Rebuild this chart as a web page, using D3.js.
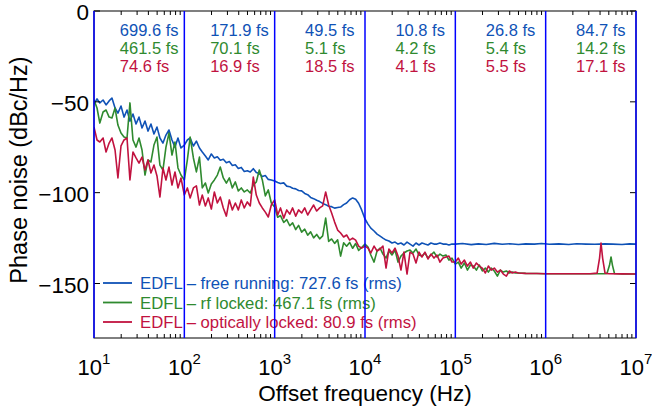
<!DOCTYPE html>
<html><head><meta charset="utf-8">
<script src="https://cdn.jsdelivr.net/npm/d3@7"></script>
<style>
body{margin:0;background:#fff}
svg{display:block}
text{font-family:"Liberation Sans",Arial,Helvetica,sans-serif}
</style>
</head><body>
<svg id="chart" width="652" height="408"></svg>
<script>
// ---------------- data ----------------
const freqGrid = [
  10,10.8,11.6,12.6,13.6,14.7,15.8,17.1,18.4,19.9,21.5,23.2,25,27,29.2,31.5,34,36.7,39.6,42.7,46.1,49.8,53.7,58,62.6,67.6,73,78.8,85,91.8,
  100,108,116,126,136,147,158,171,184,199,215,232,250,270,292,315,340,367,396,427,461,498,537,580,626,676,730,788,850,918,
  1000,1080,1160,1260,1360,1470,1580,1710,1840,1990,2150,2320,2500,2700,2920,3150,3400,3670,3960,4270,4610,4980,5370,5800,6260,6760,7300,7880,8500,9180,
  10000,10800,11600,12600,13600,14700,15800,17100,18400,19900,21500,23200,25000,27000,29200,31500,34000,36700,39600,42700,46100,49800,53700,58000,62600,67600,73000,78800,85000,91800
];
const freeRunningDb = [
  -51.2,-48.4,-50.6,-49.0,-51.7,-49.5,-47.9,-53.4,-56.2,-52.3,-58.4,-54.5,-60.6,-56.7,-62.2,-58.4,-64.4,-60.6,-66.1,-62.2,-67.7,-63.9,-69.9,-72.7,-68.3,-65.5,-71.0,-74.9,-69.9,-75.4,
  -73.8,-71.0,-69.9,-74.3,-71.6,-75.4,-77.6,-79.8,-82.0,-78.7,-80.9,-80.2,-82.1,-81.6,-83.5,-82.9,-85.0,-84.6,-86.7,-86.1,-88.3,-87.9,-88.6,-86.8,-88.9,-89.5,-91.1,-90.6,-92.7,-93.0,
  -93.6,-94.4,-95.0,-94.6,-96.4,-96.7,-97.6,-97.9,-98.8,-99.0,-100.4,-101.1,-102.6,-103.3,-104.2,-104.9,-105.9,-106.6,-107.5,-107.7,-108.5,-108.2,-107.9,-106.6,-105.7,-103.9,-102.9,-103.6,-105.8,-109.5,
  -114.5,-117.3,-119.5,-121.1,-122.8,-123.9,-125.0,-126.1,-126.6,-127.7,-127.2,-128.3,-127.7,-128.8,-127.2,-128.3,-129.4,-127.7,-128.8,-127.7,-128.3,-128.8,-127.7,-128.3,-128.3,-127.7,-128.3,-128.3,-128.8,-128.3
];
const rfLockedDb = [
  -49.0,-53.4,-61.7,-55.6,-54.5,-58.4,-58.9,-53.4,-62.8,-67.2,-69.4,-69.9,-50.6,-71.0,-74.9,-69.9,-76.5,-90.3,-82.0,-83.1,-73.8,-69.4,-84.8,-87.5,-74.9,-67.2,-79.3,-72.1,-86.4,-90.3,
  -93.0,-82.0,-69.4,-80.9,-88.6,-80.4,-97.4,-94.7,-100.2,-95.2,-93.0,-90.3,-85.9,-91.9,-94.7,-91.9,-97.4,-94.1,-99.1,-97.4,-99.6,-98.5,-100.2,-95.8,-94.1,-87.5,-93.0,-101.8,-98.5,-105.7,
  -107.9,-113.5,-112.6,-116.4,-114.8,-118.2,-116.6,-120.3,-118.0,-121.7,-120.1,-123.4,-121.6,-124.9,-123.0,-125.4,-123.8,-114.0,-126.8,-125.5,-127.9,-126.0,-134.9,-127.6,-129.5,-127.4,-130.6,-128.0,-131.8,-130.2,
  -128.3,-129.9,-134.3,-138.2,-132.1,-130.5,-133.8,-136.0,-132.1,-134.3,-131.6,-138.2,-134.9,-133.2,-132.1,-131.6,-133.2,-131.0,-134.3,-134.9,-133.2,-136.0,-134.3,-132.7,-135.4,-133.8,-134.9,-134.3,-137.1,-136.0
];
const opticallyLockedDb = [
  -63.9,-71.0,-72.1,-69.9,-77.6,-72.7,-69.9,-76.5,-91.9,-74.3,-71.0,-69.9,-93.0,-77.6,-80.9,-83.7,-80.4,-87.5,-82.0,-89.2,-84.8,-90.8,-102.4,-86.4,-93.0,-85.9,-95.8,-88.6,-97.4,-91.9,
  -101.3,-97.4,-102.9,-97.4,-96.3,-106.8,-101.3,-107.3,-102.9,-109.0,-99.6,-105.7,-102.4,-108.4,-112.9,-104.0,-109.5,-105.7,-109.5,-104.0,-108.4,-105.1,-107.3,-91.4,-101.3,-105.7,-108.4,-110.7,-113.4,-106.8,
  -104.0,-112.3,-108.4,-114.0,-109.5,-111.8,-108.4,-112.9,-109.5,-111.2,-108.4,-112.3,-109.5,-106.8,-110.1,-108.4,-107.3,-99.6,-106.8,-111.2,-116.2,-120.6,-122.2,-124.4,-123.3,-126.1,-125.0,-126.1,-129.4,-130.5,
  -129.4,-130.5,-133.2,-129.4,-132.1,-131.0,-129.4,-141.5,-131.0,-133.2,-130.5,-134.9,-142.6,-132.7,-144.8,-132.7,-133.8,-138.7,-132.7,-135.4,-132.7,-136.5,-133.8,-136.0,-134.3,-138.2,-136.0,-135.4,-134.9,-138.2
];
const freeRunningTailF = [100000,120000,150000,180000,220000,270000,330000,400000,500000,600000,750000,900000,1100000,1400000,1800000,2200000,2800000,3500000,4500000,5500000,7000000,8500000,10000000];
const freeRunningTailDb = [-128.3,-128.0,-128.6,-128.2,-128.5,-127.9,-128.4,-128.1,-128.5,-128.2,-128.3,-128.0,-128.4,-128.2,-128.5,-128.1,-128.3,-128.4,-128.2,-128.3,-128.5,-128.2,-128.3];
const rfLockedTailF = [100000,108000,116000,126000,136000,147000,158000,171000,184000,199000,215000,232000,250000,270000,292000,315000,340000,367000,396000,427000,461000,498000,600000,800000,1000000,2000000,4500000,4770000,5090000,5290000,5490000,5780000,7000000,10000000];
const rfLockedTailDb = [-139.3,-138.2,-141.5,-138.7,-142.6,-139.8,-140.4,-142.6,-139.8,-143.1,-141.5,-143.7,-141.5,-143.1,-145.9,-142.6,-143.7,-143.1,-144.2,-143.7,-144.2,-144.2,-144.4,-144.5,-144.6,-144.6,-144.6,-144.5,-140.0,-135.4,-140.0,-144.5,-144.7,-144.8];
const opticallyLockedTailF = [100000,108000,116000,126000,136000,147000,158000,171000,184000,199000,215000,232000,250000,270000,292000,315000,340000,367000,396000,427000,461000,498000,600000,800000,1000000,1500000,2000000,3100000,3710000,3950000,4100000,4270000,4540000,5000000,7000000,10000000];
const opticallyLockedTailDb = [-138.2,-136.0,-139.3,-137.1,-140.4,-138.2,-141.5,-138.7,-140.4,-141.5,-144.2,-140.4,-142.6,-141.5,-143.7,-142.6,-144.8,-145.9,-143.1,-144.2,-143.7,-144.2,-144.4,-144.5,-144.6,-144.6,-144.6,-144.6,-144.3,-136.0,-127.7,-136.0,-144.3,-144.6,-144.7,-144.8];

const decadeStarts = [10,100,1000,10000,100000,1000000];
const jitterFree = ["699.6 fs","171.9 fs","49.5 fs","10.8 fs","26.8 fs","84.7 fs"];
const jitterRf = ["461.5 fs","70.1 fs","5.1 fs","4.2 fs","5.4 fs","14.2 fs"];
const jitterOpt = ["74.6 fs","16.9 fs","18.5 fs","4.1 fs","5.5 fs","17.1 fs"];
const legendLabels = [
  "EDFL \u2013 free running: 727.6 fs (rms)",
  "EDFL \u2013 rf locked: 467.1 fs (rms)",
  "EDFL \u2013 optically locked: 80.9 fs (rms)"
];
const yTicks = [0,-50,-100,-150];
const xTickExp = [1,2,3,4,5,6,7];
const colors = ["#0f52b6","#2f8a2f","#c1123f"];

// ---------------- chart ----------------
const svg = d3.select("#chart");
const L=94, R=636, T=11, B=338;
const x = d3.scaleLog().domain([10,1e7]).range([L,R]);
const y = d3.scaleLinear().domain([-180,0]).range([B,T]);

svg.append("defs").append("clipPath").attr("id","clip")
  .append("rect").attr("x",L).attr("y",T).attr("width",R-L).attr("height",B-T);

function series(dbs, tf, td){
  const pts = freqGrid.map((f,i)=>[f,dbs[i]]);
  tf.forEach((f,i)=>pts.push([f,td[i]]));
  return pts;
}
const allSeries = [
  series(freeRunningDb, freeRunningTailF, freeRunningTailDb),
  series(rfLockedDb, rfLockedTailF, rfLockedTailDb),
  series(opticallyLockedDb, opticallyLockedTailF, opticallyLockedTailDb)
];
const line = d3.line().x(d=>x(d[0])).y(d=>y(d[1]));
const g = svg.append("g").attr("clip-path","url(#clip)");
allSeries.forEach((s,i)=>{
  g.append("path").attr("d",line(s)).attr("fill","none")
   .attr("stroke",colors[i]).attr("stroke-width",1.6).attr("stroke-linejoin","round");
});

// axes box
svg.append("rect").attr("x",L).attr("y",T).attr("width",R-L).attr("height",B-T)
  .attr("fill","none").attr("stroke","#000").attr("stroke-width",1);

// minor x ticks (top & bottom)
const minor=[];
decadeStarts.forEach(d=>{for(let k=2;k<=9;k++) minor.push(d*k);});
minor.forEach(f=>{
  svg.append("line").attr("x1",x(f)).attr("x2",x(f)).attr("y1",B).attr("y2",B-4).attr("stroke","#000");
  svg.append("line").attr("x1",x(f)).attr("x2",x(f)).attr("y1",T).attr("y2",T+4).attr("stroke","#000");
});
// y ticks
yTicks.forEach(v=>{
  svg.append("line").attr("x1",L).attr("x2",L+6).attr("y1",y(v)).attr("y2",y(v)).attr("stroke","#000");
  svg.append("line").attr("x1",R).attr("x2",R-6).attr("y1",y(v)).attr("y2",y(v)).attr("stroke","#000");
  svg.append("text").attr("x",L-5).attr("y",y(v)).attr("dy","0.42em")
    .attr("text-anchor","end").attr("font-size",22.5).attr("fill","#000")
    .text(v===0?"0":"\u2212"+Math.abs(v));
});
// x tick labels
xTickExp.forEach(e=>{
  const t=svg.append("text").attr("x",x(Math.pow(10,e))).attr("y",375)
    .attr("text-anchor","middle").attr("font-size",22).attr("fill","#000");
  t.append("tspan").text("10");
  t.append("tspan").attr("dy",-11).attr("font-size",15).text(e);
});
// axis titles
svg.append("text").attr("x",(L+R)/2).attr("y",401).attr("text-anchor","middle")
  .attr("font-size",22.5).attr("fill","#000").text("Offset frequency (Hz)");
svg.append("text").attr("transform","translate(27,170) rotate(-90)")
  .attr("text-anchor","middle").attr("font-size",23.5).attr("fill","#000").text("Phase noise (dBc/Hz)");

// jitter annotations
const rows=[jitterFree,jitterRf,jitterOpt];
decadeStarts.forEach((d,j)=>{
  const cx=(x(d)+x(d*10))/2+10;
  const probe=svg.append("text").attr("font-size",16.5).text(jitterFree[j]);
  const w=probe.node().getComputedTextLength(); probe.remove();
  rows.forEach((r,i)=>{
    svg.append("text").attr("x",cx-w/2).attr("y",36+i*18).attr("font-size",16.5)
      .attr("fill",colors[i]).text(r[j]);
  });
});

// legend
legendLabels.forEach((lab,i)=>{
  const yy=283+i*19.5;
  svg.append("line").attr("x1",103).attr("x2",132).attr("y1",yy).attr("y2",yy)
    .attr("stroke",colors[i]).attr("stroke-width",1.8);
  svg.append("text").attr("x",140).attr("y",yy).attr("dy","0.36em").attr("font-size",16.7)
    .attr("fill",colors[i]).text(lab);
});

// decade lines
xTickExp.forEach(e=>{
  const xx=x(Math.pow(10,e));
  svg.append("line").attr("x1",xx).attr("x2",xx).attr("y1",T).attr("y2",B)
    .attr("stroke","#0000ff").attr("stroke-width",1.5);
});
</script>
</body></html>
